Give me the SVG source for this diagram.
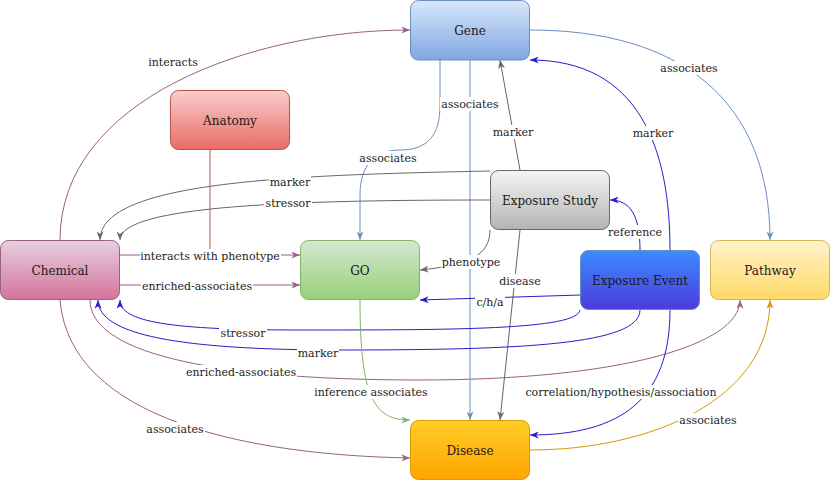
<svg xmlns="http://www.w3.org/2000/svg" width="831" height="481" viewBox="0 0 831 481">
<style>
.node text{font-family:'DejaVu Serif','Liberation Serif',serif;font-size:12px;fill:#1a1a1a;text-anchor:middle}
.e{fill:none;stroke-width:1}
.lbl text{font-family:'DejaVu Serif','Liberation Serif',serif;font-size:11px;fill:#222;text-anchor:middle}
.lbl rect{fill:#fff}
</style>
<defs>
<linearGradient id="gGene" x1="0" y1="0" x2="0" y2="1"><stop offset="0" stop-color="#dae8fc"/><stop offset="1" stop-color="#7ea6e0"/></linearGradient>
<linearGradient id="gAna" x1="0" y1="0" x2="0" y2="1"><stop offset="0" stop-color="#f8cecc"/><stop offset="1" stop-color="#ea6b66"/></linearGradient>
<linearGradient id="gChem" x1="0" y1="0" x2="0" y2="1"><stop offset="0" stop-color="#e6d0de"/><stop offset="1" stop-color="#d5739d"/></linearGradient>
<linearGradient id="gGO" x1="0" y1="0" x2="0" y2="1"><stop offset="0" stop-color="#d5e8d4"/><stop offset="1" stop-color="#97d077"/></linearGradient>
<linearGradient id="gES" x1="0" y1="0" x2="0" y2="1"><stop offset="0" stop-color="#f5f5f5"/><stop offset="1" stop-color="#b3b3b3"/></linearGradient>
<linearGradient id="gEE" x1="0" y1="0" x2="0" y2="1"><stop offset="0" stop-color="#3a8dff"/><stop offset="1" stop-color="#4d3adb"/></linearGradient>
<linearGradient id="gPath" x1="0" y1="0" x2="0" y2="1"><stop offset="0" stop-color="#fff2cc"/><stop offset="1" stop-color="#ffd966"/></linearGradient>
<linearGradient id="gDis" x1="0" y1="0" x2="0" y2="1"><stop offset="0" stop-color="#ffcd28"/><stop offset="1" stop-color="#ffa500"/></linearGradient>
<marker id="aP" viewBox="0 0 10 8" refX="10" refY="4" markerWidth="9" markerHeight="7" orient="auto" markerUnits="userSpaceOnUse"><path d="M0,0 L10,4 L0,8 L3,4 Z" fill="#996185"/></marker>
<marker id="aB" viewBox="0 0 10 8" refX="10" refY="4" markerWidth="9" markerHeight="7" orient="auto" markerUnits="userSpaceOnUse"><path d="M0,0 L10,4 L0,8 L3,4 Z" fill="#6c8ebf"/></marker>
<marker id="aG" viewBox="0 0 10 8" refX="10" refY="4" markerWidth="9" markerHeight="7" orient="auto" markerUnits="userSpaceOnUse"><path d="M0,0 L10,4 L0,8 L3,4 Z" fill="#666666"/></marker>
<marker id="aD" viewBox="0 0 10 8" refX="10" refY="4" markerWidth="9" markerHeight="7" orient="auto" markerUnits="userSpaceOnUse"><path d="M0,0 L10,4 L0,8 L3,4 Z" fill="#2a1bc9"/></marker>
<marker id="aGr" viewBox="0 0 10 8" refX="10" refY="4" markerWidth="9" markerHeight="7" orient="auto" markerUnits="userSpaceOnUse"><path d="M0,0 L10,4 L0,8 L3,4 Z" fill="#82b366"/></marker>
<marker id="aO" viewBox="0 0 10 8" refX="10" refY="4" markerWidth="9" markerHeight="7" orient="auto" markerUnits="userSpaceOnUse"><path d="M0,0 L10,4 L0,8 L3,4 Z" fill="#d79b00"/></marker>
</defs>
<rect width="831" height="481" fill="#fff"/>
<g id="connectors">
<path class="e" stroke="#b85450" d="M210,150 L210,255"/>
<path class="e" stroke="#996185" marker-end="url(#aP)" d="M60,240 C60,100 250,30 410,30"/>
<path class="e" stroke="#996185" marker-end="url(#aP)" d="M120,255 L300,255"/>
<path class="e" stroke="#996185" marker-end="url(#aP)" d="M120,285 L300,285"/>
<path class="e" stroke="#996185" marker-end="url(#aP)" d="M60,300 C70,420 250,455 410,458"/>
<path class="e" stroke="#996185" marker-end="url(#aP)" d="M90,300 C90,350 200,380 420,380 C620,380 740,345 740,300"/>
<path class="e" stroke="#6c8ebf" marker-end="url(#aB)" d="M440,60 L440,105 C440,135 428,150 400,150 C375,150 360,165 360,195 L360,240"/>
<path class="e" stroke="#6c8ebf" marker-end="url(#aB)" d="M470,60 L470,420"/>
<path class="e" stroke="#6c8ebf" marker-end="url(#aB)" d="M530,30 C680,30 770,100 770,240"/>
<path class="e" stroke="#666666" marker-end="url(#aG)" d="M520,170 L500,60"/>
<path class="e" stroke="#666666" marker-end="url(#aG)" d="M490,171 C300,175 100,180 100,240"/>
<path class="e" stroke="#666666" marker-end="url(#aG)" d="M490,200 C300,200 120,205 120,240"/>
<path class="e" stroke="#666666" marker-end="url(#aG)" d="M490,230 C490,255 470,265 420,270"/>
<path class="e" stroke="#666666" marker-end="url(#aG)" d="M520,230 L500,420"/>
<path class="e" stroke="#2a1bc9" marker-end="url(#aD)" d="M640,250 C640,215 630,200 610,200"/>
<path class="e" stroke="#2a1bc9" marker-end="url(#aD)" d="M670,250 C670,150 640,60 530,60"/>
<path class="e" stroke="#2a1bc9" marker-end="url(#aD)" d="M580,295 L420,300"/>
<path class="e" stroke="#2a1bc9" marker-end="url(#aD)" d="M580,310 C578,330 450,330 300,330 C170,330 120,322 120,300"/>
<path class="e" stroke="#2a1bc9" marker-end="url(#aD)" d="M640,310 C640,345 520,350 340,350 C180,350 98,335 98,300"/>
<path class="e" stroke="#2a1bc9" marker-end="url(#aD)" d="M670,310 C670,400 620,435 530,435"/>
<path class="e" stroke="#82b366" marker-end="url(#aGr)" d="M360,300 C360,400 375,420 410,420"/>
<path class="e" stroke="#d79b00" marker-end="url(#aO)" d="M530,450 C650,450 770,400 770,300"/>
<g class="lbl">
<rect x="147" y="55" width="52" height="14"/><text x="173" y="66">interacts</text>
<rect x="140" y="249" width="141" height="14"/><text x="210" y="260">interacts with phenotype</text>
<rect x="141" y="279" width="112" height="14"/><text x="197" y="290">enriched-associates</text>
<rect x="145" y="422" width="60" height="14"/><text x="175" y="433">associates</text>
<rect x="185" y="365" width="112" height="14"/><text x="241" y="376">enriched-associates</text>
<rect x="358" y="151" width="60" height="14"/><text x="388" y="162">associates</text>
<rect x="440" y="97" width="60" height="14"/><text x="470" y="108">associates</text>
<rect x="659" y="61" width="60" height="14"/><text x="689" y="72">associates</text>
<rect x="492" y="125" width="42" height="14"/><text x="513" y="136">marker</text>
<rect x="269" y="175" width="42" height="14"/><text x="290" y="186">marker</text>
<rect x="264" y="196" width="48" height="14"/><text x="288" y="207">stressor</text>
<rect x="441" y="255" width="60" height="14"/><text x="471" y="266">phenotype</text>
<rect x="498" y="274" width="44" height="14"/><text x="520" y="285">disease</text>
<rect x="607" y="225" width="56" height="14"/><text x="635" y="236">reference</text>
<rect x="632" y="126" width="42" height="14"/><text x="653" y="137">marker</text>
<rect x="475" y="295" width="30" height="14"/><text x="490" y="306">c/h/a</text>
<rect x="219" y="326" width="48" height="14"/><text x="243" y="337">stressor</text>
<rect x="297" y="346" width="42" height="14"/><text x="318" y="357">marker</text>
<rect x="526" y="385" width="190" height="14"/><text x="621" y="396">correlation/hypothesis/association</text>
<rect x="313" y="385" width="116" height="14"/><text x="371" y="396">inference associates</text>
<rect x="678" y="413" width="60" height="14"/><text x="708" y="424">associates</text>
</g>
</g>
<g id="gene" class="node"><rect x="410.5" y="0.5" width="119" height="59.5" rx="8" fill="url(#gGene)" stroke="#6c8ebf"/><text x="470" y="35">Gene</text></g>
<g id="anatomy" class="node"><rect x="170.5" y="90.5" width="119" height="59" rx="8" fill="url(#gAna)" stroke="#b85450"/><text x="230" y="125">Anatomy</text></g>
<g id="chemical" class="node"><rect x="0.5" y="240.5" width="119" height="59" rx="8" fill="url(#gChem)" stroke="#996185"/><text x="60" y="275">Chemical</text></g>
<g id="go" class="node"><rect x="300.5" y="240.5" width="119" height="59" rx="8" fill="url(#gGO)" stroke="#82b366"/><text x="360" y="275">GO</text></g>
<g id="exposure-study" class="node"><rect x="490.5" y="170.5" width="119" height="59" rx="8" fill="url(#gES)" stroke="#666666"/><text x="550" y="205">Exposure Study</text></g>
<g id="exposure-event" class="node"><rect x="580.5" y="250.5" width="119" height="59" rx="8" fill="url(#gEE)" stroke="#6c8ebf"/><text x="640" y="285">Exposure Event</text></g>
<g id="pathway" class="node"><rect x="710.5" y="240.5" width="119" height="59" rx="8" fill="url(#gPath)" stroke="#d6b656"/><text x="770" y="275">Pathway</text></g>
<g id="disease" class="node"><rect x="410.5" y="420.5" width="119" height="59" rx="8" fill="url(#gDis)" stroke="#d79b00"/><text x="470" y="455">Disease</text></g>
</svg>
